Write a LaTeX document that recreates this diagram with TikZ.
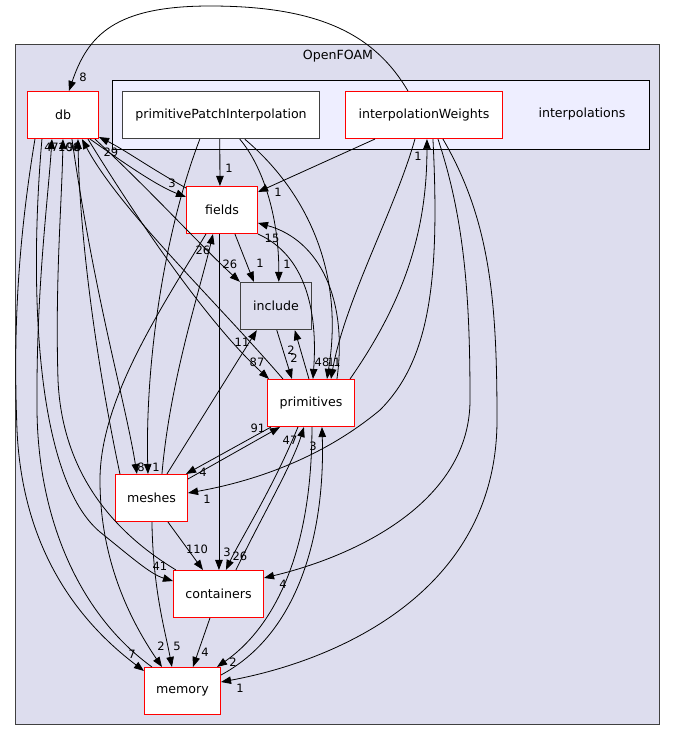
\documentclass[tikz,border=0pt]{standalone}
\usepackage{fontspec}
\setmainfont{DejaVu Sans}
\usetikzlibrary{arrows.meta,calc}
\definecolor{clbg}{HTML}{DDDDEE}
\definecolor{inbg}{HTML}{EEEEFF}
\definecolor{bd}{HTML}{404040}
\definecolor{nred}{HTML}{FF0000}
\begin{document}
\begin{tikzpicture}[x=1pt,y=-1pt,
  dirr/.style={draw=nred, fill=white, text=black, line width=1.1pt, minimum height=47pt, inner sep=0pt, font=\fontsize{12.6}{15}\selectfont},
  dirb/.style={draw=bd, fill=white, text=black, line width=1.4pt, minimum height=47pt, inner sep=0pt, font=\fontsize{12.6}{15}\selectfont},
  dep/.style={-{Triangle[length=10pt,width=7.5pt]}, line width=0.8pt, draw=black},
  lab/.style={inner sep=0pt, text=black, font=\fontsize{11.5}{13}\selectfont},
  clab/.style={inner sep=0pt, text=black, font=\fontsize{12.6}{15}\selectfont}]
\useasboundingbox (0,0) rectangle (676,742);
\fill[white] (0,0) rectangle (676,742);
% clusters
\draw[fill=clbg, draw=bd, line width=1.2pt] (15.5,44.5) rectangle (659.5,724.5);
\node[clab] (cOF) at (338,56) {OpenFOAM};
\draw[fill=inbg, draw=black, line width=1.2pt] (112.5,80.5) rectangle (649.5,149.5);
\node[clab] (cIP) at (582,114) {interpolations};
% nodes
\node[dirr, minimum width=71pt] (db) at (63,115) {db};
\node[dirb, minimum width=197pt] (pPI) at (221,115) {primitivePatchInterpolation};
\node[dirr, minimum width=157pt] (iW) at (424,115) {interpolationWeights};
\node[dirr, minimum width=71pt] (fields) at (222,210) {fields};
\node[dirb, fill=clbg, minimum width=71pt] (include) at (276,306) {include};
\node[dirr, minimum width=87pt] (prim) at (311,403) {primitives};
\node[dirr, minimum width=72pt] (meshes) at (151.5,498) {meshes};
\node[dirr, minimum width=90pt] (containers) at (218.5,594) {containers};
\node[dirr, minimum width=76pt] (memory) at (182.5,691) {memory};
% edges
\draw[dep] ($(iW.north west)+(63,0)$) .. controls (375,35) and (320,6) .. (210,6) .. controls (115,6) and (88,35) .. ($(db.north west)+(42,0)$);
\node[lab] (l1) at (83,77) {8};
\draw[dep] ($(fields.north west)+(0,2)$) .. controls (150,168) and (125,150) .. ($(db.south east)+(0,-2)$);
\node[lab] (l2) at (111,152) {29};
\draw[dep] ($(db.south west)+(63,0)$) .. controls (120,160) and (155,185) .. ($(fields.west)+(0,-13)$);
\node[lab] (l3) at (172,183) {3};
\draw[dep] ($(pPI.south west)+(98,0)$) -- ($(fields.north west)+(34,0)$);
\node[lab] (l4) at (229,168) {1};
\draw[dep] ($(iW.south west)+(30,0)$) -- ($(fields.north east)+(0,6)$);
\node[lab] (l5) at (278,192) {1};
\draw[dep] ($(pPI.south west)+(118,0)$) .. controls (262,165) and (279,215) .. ($(include.north west)+(39,0)$);
\node[lab] (l6) at (287,264) {1};
\draw[dep] ($(pPI.south west)+(123,0)$) .. controls (305,190) and (345,270) .. ($(prim.north west)+(60,0)$);
\node[lab] (l7) at (331,362) {1};
\draw[dep] (fields.south east) .. controls (305,255) and (318,310) .. ($(prim.north west)+(46,0)$);
\node[lab] (l8) at (322,362) {48};
\draw[dep] ($(prim.north west)+(70,0)$) .. controls (348,300) and (320,240) .. ($(fields.east)+(0,13)$);
\node[lab] (l9) at (272,238) {15};
\draw[dep] ($(iW.south west)+(70,0)$) .. controls (395,210) and (345,300) .. ($(prim.north west)+(64,0)$);
\node[lab] (l10) at (337,362) {1};
\draw[dep] ($(prim.north east)+(-5,0)$) .. controls (405,300) and (427,230) .. ($(iW.south west)+(82,0)$);
\node[lab] (l11) at (418,156) {1};
\draw[dep] ($(iW.south west)+(88,0)$) .. controls (440,280) and (430,360) .. (380,410) .. controls (320,460) and (250,482) .. ($(meshes.east)+(0,-5)$);
\node[lab] (l12) at (207,499) {1};
\draw[dep] ($(iW.south west)+(93,0)$) .. controls (465,220) and (470,300) .. (470,400) .. controls (470,500) and (360,555) .. ($(containers.north east)+(0,8)$);
\node[lab] (l13) at (283,584) {4};
\draw[dep] ($(iW.south west)+(98,0)$) .. controls (490,220) and (497,300) .. (497,420) .. controls (497,590) and (340,660) .. ($(memory.east)+(0,-9)$);
\node[lab] (l14) at (240,688) {1};
\draw[dep] ($(meshes.north east)+(0,5)$) -- ($(prim.south west)+(13,0)$);
\node[lab] (l15) at (258,428) {91};
\draw[dep] ($(prim.south west)+(4,0)$) -- ($(meshes.north east)+(-2,0)$);
\node[lab] (l16) at (203,472) {4};
\draw[dep] ($(meshes.north west)+(52,0)$) -- ($(include.south west)+(17,0)$);
\node[lab] (l17) at (242,342) {11};
\draw[dep] ($(include.south west)+(37,0)$) -- ($(prim.north west)+(25,0)$);
\node[lab] (l18) at (294,358) {2};
\draw[dep] ($(prim.north west)+(42,0)$) -- ($(include.south west)+(55,0)$);
\node[lab] (l19) at (291,350) {2};
\draw[dep] ($(fields.south west)+(49,0)$) -- ($(include.north west)+(14,0)$);
\node[lab] (l20) at (260,263) {1};
\draw[dep] ($(db.south west)+(68,0)$) .. controls (150,190) and (200,245) .. (include.north west);
\node[lab] (l21) at (230,264) {26};
\draw[dep] ($(db.south west)+(61,0)$) .. controls (150,240) and (215,330) .. ($(prim.north west)+(2,0)$);
\node[lab] (l22) at (257,362) {87};
\draw[dep] ($(prim.north west)+(16,0)$) .. controls (215,300) and (120,210) .. ($(db.south west)+(55,0)$);
\node[lab] (l23) at (74,147) {96};
\draw[dep] ($(meshes.north west)+(47,0)$) .. controls (170,380) and (200,290) .. ($(fields.south west)+(27,0)$);
\node[lab] (l24) at (203,250) {26};
\draw[dep] ($(pPI.south west)+(78,0)$) .. controls (165,230) and (145,360) .. ($(meshes.north west)+(33,0)$);
\node[lab] (l25) at (156,467) {1};
\draw[dep] ($(db.south west)+(45,0)$) .. controls (95,300) and (125,400) .. ($(meshes.north west)+(22,0)$);
\node[lab] (l26) at (141,467) {8};
\draw[dep] ($(meshes.south west)+(53,0)$) -- ($(containers.north west)+(30,0)$);
\node[lab] (l27) at (197,549) {110};
\draw[dep] ($(fields.south west)+(33,0)$) -- ($(containers.north west)+(46,0)$);
\node[lab] (l28) at (227,552) {3};
\draw[dep] ($(prim.south west)+(31,0)$) .. controls (272,490) and (240,540) .. ($(containers.north west)+(53,0)$);
\node[lab] (l29) at (240,556) {26};
\draw[dep] ($(containers.north west)+(63,0)$) .. controls (260,520) and (292,465) .. ($(prim.south west)+(37,0)$);
\node[lab] (l30) at (290,440) {47};
\draw[dep] ($(memory.north east)+(0,8)$) .. controls (305,630) and (325,520) .. ($(prim.south west)+(55,0)$);
\node[lab] (l31) at (313,446) {3};
\draw[dep] ($(prim.south west)+(45,0)$) .. controls (312,560) and (270,630) .. ($(memory.north east)+(-4,0)$);
\node[lab] (l32) at (233,662) {2};
\draw[dep] ($(containers.south west)+(37,0)$) -- ($(memory.north west)+(49,0)$);
\node[lab] (l33) at (205,652) {4};
\draw[dep] ($(meshes.south west)+(37,0)$) .. controls (153,590) and (165,630) .. ($(memory.north west)+(28,0)$);
\node[lab] (l34) at (177,646) {5};
\draw[dep] ($(fields.south west)+(20,0)$) .. controls (160,310) and (100,400) .. (100,480) .. controls (100,560) and (130,620) .. ($(memory.north west)+(18,0)$);
\node[lab] (l35) at (161,646) {2};
\draw[dep] ($(db.south west)+(8,0)$) .. controls (15,260) and (14,350) .. (17,430) .. controls (22,540) and (70,615) .. ($(memory.north west)+(0,4)$);
\node[lab] (l36) at (132,654) {7};
\draw[dep] ($(memory.north west)+(8,0)$) .. controls (80,615) and (38,520) .. (37,410) .. controls (36,290) and (48,200) .. ($(db.south west)+(25,0)$);
\node[lab] (l37) at (48,147) {4};
\draw[dep] ($(db.south west)+(15,0)$) .. controls (28,300) and (38,480) .. (100,532) .. controls (130,556) and (150,574) .. ($(containers.west)+(0,-13)$);
\node[lab] (l38) at (160,566) {41};
\draw[dep] ($(containers.north west)+(3,0)$) .. controls (110,530) and (62,470) .. (58,380) .. controls (55,280) and (62,200) .. ($(db.south west)+(36,0)$);
\node[lab] (l39) at (55,147) {7};
\draw[dep] ($(meshes.north west)+(5,0)$) .. controls (100,380) and (80,250) .. ($(db.south west)+(51,0)$);
\node[lab] (l40) at (69,147) {106};
\end{tikzpicture}
\end{document}
